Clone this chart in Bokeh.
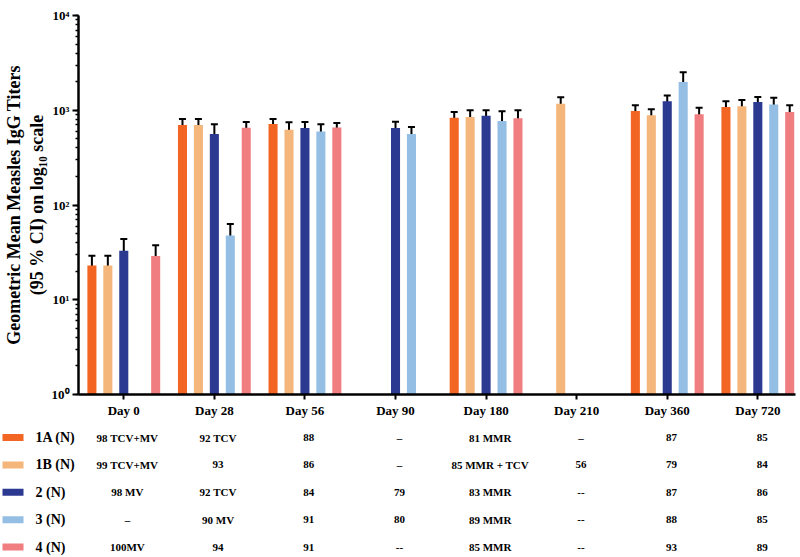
import math
from bokeh.plotting import figure
from bokeh.models import (Range1d, ColumnDataSource, Whisker, TeeHead,
                          CustomJSTickFormatter, FixedTicker)
from bokeh.layouts import column
from bokeh.embed import file_html
from bokeh.resources import INLINE
from bokeh.core.properties import value

# ---------------- data ----------------
days = ["Day 0", "Day 28", "Day 56", "Day 90", "Day 180", "Day 210", "Day 360", "Day 720"]
groups = ["1A (N)", "1B (N)", "2 (N)", "3 (N)", "4 (N)"]
colors = ["#F26522", "#F4B67A", "#2B3990", "#94BEE4", "#F07E80"]

nan = float("nan")
gmt_1A = [23.0, 700, 718, nan, 833, nan, 984, 1081]
lo_1A = [16.6, 622, 665, nan, 729, nan, 888, 976]
hi_1A = [29.1, 807, 809, nan, 960, nan, 1127, 1247]

gmt_1B = [23.0, 700, 622, nan, 847, 1172, 888, 1099]
lo_1B = [16.6, 622, 525, nan, 757, 1057, 833, 984]
hi_1B = [29.1, 807, 745, nan, 1000, 1371, 1024, 1279]

gmt_2 = [32.8, 561, 648, 648, 873, nan, 1247, 1219]
lo_2 = [25.2, 446, 570, 575, 770, nan, 1109, 1081]
hi_2 = [43.9, 710, 753, 757, 1000, nan, 1429, 1384]

gmt_3 = [nan, 47.6, 597, 561, 770, nan, 1991, 1153]
lo_3 = [nan, 36.0, 521, 482, 632, nan, 1634, 1024]
hi_3 = [nan, 63.0, 710, 665, 976, nan, 2523, 1352]

gmt_4 = [28.9, 652, 658, nan, 821, nan, 910, 960]
lo_4 = [22.4, 575, 597, nan, 689, nan, 821, 867]
hi_4 = [37.5, 750, 735, nan, 1000, nan, 1065, 1127]

n_1A = ["98 TCV+MV", "92 TCV", "88", "\u2013", "81 MMR", "\u2013", "87", "85"]
n_1B = ["99 TCV+MV", "93", "86", "\u2013", "85 MMR + TCV", "56", "79", "84"]
n_2 = ["98 MV", "92 TCV", "84", "79", "83 MMR", "--", "87", "86"]
n_3 = ["\u2013", "90 MV", "91", "80", "89 MMR", "--", "88", "85"]
n_4 = ["100MV", "94", "91", "--", "85 MMR", "--", "93", "89"]

gmts = [gmt_1A, gmt_1B, gmt_2, gmt_3, gmt_4]
los = [lo_1A, lo_1B, lo_2, lo_3, lo_4]
his = [hi_1A, hi_1B, hi_2, hi_3, hi_4]
ns = [n_1A, n_1B, n_2, n_3, n_4]

# ---------------- layout constants ----------------
FONT_NAME = "Liberation Serif"
FONT = value(FONT_NAME)
W = 800
TOP_H = 420
TAB_H = 137
BL = 77
BR = 5
BT = 15
BB = 24
x_lo, x_hi = -0.5, 7.416
bar_w = 0.1
step = 0.176

# ---------------- main chart ----------------
p = figure(width=W, height=TOP_H, x_range=Range1d(x_lo, x_hi),
           y_range=Range1d(1, 10000), y_axis_type="log",
           output_backend="svg", toolbar_location=None, title=None,
           min_border_left=BL, min_border_right=BR, min_border_top=BT,
           min_border_bottom=BB)
p.frame_align = False
p.outline_line_color = None
p.grid.visible = False

for gi in range(len(groups)):
    xs, tops, lows, highs = [], [], [], []
    for di in range(len(days)):
        v = gmts[gi][di]
        if not math.isnan(v):
            xs.append(di + (gi - 2) * step)
            tops.append(v)
            lows.append(los[gi][di])
            highs.append(his[gi][di])
    src = ColumnDataSource(dict(x=xs, top=tops, lower=lows, upper=highs))
    p.vbar(x="x", top="top", bottom=1, width=bar_w, source=src,
           fill_color=colors[gi], line_color=None)
    w = Whisker(source=src, base="x", upper="upper", lower="lower",
                line_color="black", line_width=2,
                upper_head=TeeHead(size=7, line_width=2, line_color="black"),
                lower_head=TeeHead(size=7, line_width=2, line_color="black"))
    p.add_layout(w)

xa = p.xaxis[0]
xa.ticker = FixedTicker(ticks=list(range(len(days))))
xa.major_label_overrides = {i: d for i, d in enumerate(days)}
xa.axis_line_width = 2.5
xa.axis_line_color = "black"
xa.major_tick_line_width = 2
xa.major_tick_line_color = "black"
xa.major_tick_out = 5
xa.major_tick_in = 0
xa.minor_tick_line_color = None
xa.major_label_text_font = FONT_NAME
xa.major_label_text_font_style = "bold"
xa.major_label_text_font_size = "13px"
xa.major_label_text_color = "black"
xa.major_label_standoff = 3

ya = p.yaxis[0]
ya.axis_line_width = 2.5
ya.axis_line_color = "black"
ya.major_tick_line_width = 2
ya.major_tick_line_color = "black"
ya.major_tick_out = 6
ya.major_tick_in = 0
ya.minor_tick_out = 3
ya.minor_tick_in = 0
ya.minor_tick_line_width = 1.5
ya.minor_tick_line_color = "black"
ya.major_label_text_font = FONT_NAME
ya.major_label_text_font_style = "bold"
ya.major_label_text_font_size = "13px"
ya.major_label_text_color = "black"
ya.major_label_standoff = 3
ya.formatter = CustomJSTickFormatter(code="""
const sup = ["\u2070","\u00b9","\u00b2","\u00b3","\u2074","\u2075","\u2076","\u2077","\u2078","\u2079"];
const e = Math.round(Math.log10(tick));
return "10" + sup[e];
""")
ya.axis_label = "Geometric Mean Measles IgG Titers\n(95 % CI) on log\u2081\u2080 scale"
ya.axis_label_text_font = FONT_NAME
ya.axis_label_text_font_style = "bold"
ya.axis_label_text_font_size = "18px"
ya.axis_label_text_color = "black"
ya.axis_label_text_line_height = 1.15
ya.axis_label_standoff = 2

# ---------------- table below ----------------
ppu = (W - BL - BR) / (x_hi - x_lo)
t_lo = x_lo - BL / ppu
row_h = 27.4
first_row = 17
t = figure(width=W, height=TAB_H, x_range=Range1d(t_lo, x_hi),
           y_range=Range1d((TAB_H - first_row) / row_h, -first_row / row_h),
           output_backend="svg", toolbar_location=None, title=None,
           x_axis_location=None, y_axis_location=None,
           min_border_left=0, min_border_right=BR, min_border_top=0,
           min_border_bottom=0)
t.frame_align = False
t.outline_line_color = None
t.grid.visible = False

rows = list(range(len(groups)))
t.rect(x=[t_lo + 12.5 / ppu] * len(groups), y=rows, width=21, height=7,
       width_units="screen", height_units="screen",
       fill_color=colors, line_color=None)
t.text(x=[t_lo + 35 / ppu] * len(groups), y=rows, text=groups,
       text_font=FONT, text_font_style="bold", text_font_size="14px",
       text_align="left", text_baseline="middle", text_color="black")

cx, cy, ct = [], [], []
for gi in range(len(groups)):
    for di in range(len(days)):
        cx.append(di + 0.05)
        cy.append(gi)
        ct.append(ns[gi][di])
t.text(x=cx, y=cy, text=ct, text_font=FONT, text_font_style="bold",
       text_font_size="11px", text_align="center", text_baseline="middle",
       text_color="black")

layout = column(p, t, spacing=0)
open("out.html", "w").write(file_html(layout, INLINE))
